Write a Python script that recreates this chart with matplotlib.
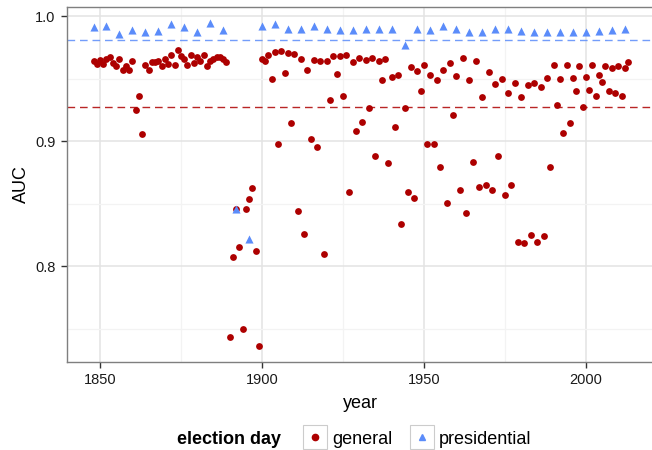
import matplotlib
matplotlib.use("Agg")
import matplotlib.pyplot as plt
from matplotlib.lines import Line2D
from matplotlib.legend_handler import HandlerTuple
from matplotlib.ticker import MultipleLocator
import numpy as np

# AUC for general elections, one value per year 1848-2013
general_years = list(range(1848, 2014))
general_auc = [
    0.964, 0.9616, 0.9648, 0.9616, 0.9653, 0.9675, 0.9627, 0.960, 0.9659, 0.9568,
    0.960, 0.9568, 0.964, 0.9248, 0.936, 0.9056, 0.9608, 0.9568, 0.9632, 0.9632,
    0.9637, 0.960, 0.9656, 0.9616, 0.9688, 0.9608, 0.9728, 0.968, 0.9656, 0.9608,
    0.9688, 0.9627, 0.967, 0.964, 0.9688, 0.960, 0.964, 0.9659, 0.967, 0.967,
    0.9656, 0.9634, 0.7434, 0.8072, 0.8453, 0.8152, 0.7498, 0.8456, 0.8536, 0.8627,
    0.8122, 0.7362, 0.9656, 0.964, 0.9688, 0.9496, 0.9714, 0.8976, 0.972, 0.9544,
    0.9704, 0.9144, 0.9696, 0.844, 0.9656, 0.8256, 0.9568, 0.9016, 0.9648, 0.8952,
    0.964, 0.8096, 0.964, 0.9328, 0.968, 0.9536, 0.968, 0.936, 0.9688, 0.8592,
    0.9632, 0.908, 0.9664, 0.9155, 0.9648, 0.9264, 0.9664, 0.888, 0.964, 0.9488,
    0.9656, 0.8824, 0.9512, 0.9112, 0.9528, 0.8336, 0.9264, 0.8592, 0.9592, 0.8544,
    0.956, 0.940, 0.9608, 0.8976, 0.9528, 0.8976, 0.9488, 0.8792, 0.9568, 0.8504,
    0.9624, 0.9208, 0.952, 0.8608, 0.9664, 0.8424, 0.9488, 0.8832, 0.964, 0.8632,
    0.9352, 0.8648, 0.9552, 0.8608, 0.9456, 0.888, 0.9496, 0.8568, 0.9384, 0.8648,
    0.9464, 0.8192, 0.9352, 0.8184, 0.9448, 0.8248, 0.9464, 0.8192, 0.9432, 0.824,
    0.9504, 0.8792, 0.9608, 0.9288, 0.9496, 0.9064, 0.9608, 0.9144, 0.9504, 0.940,
    0.960, 0.9272, 0.9512, 0.9408, 0.9608, 0.936, 0.9528, 0.9472, 0.960, 0.940,
    0.9584, 0.9384, 0.960, 0.936, 0.9584, 0.9632,
]

# AUC for presidential elections, every 4 years 1848-2012
pres_years = list(range(1848, 2013, 4))
pres_auc = [
    0.9914, 0.992, 0.986, 0.9888, 0.987, 0.988, 0.9936, 0.991, 0.9874, 0.9946,
    0.989, 0.8453, 0.8213, 0.9922, 0.9933, 0.9899, 0.9899, 0.9922, 0.990, 0.9888,
    0.9888, 0.990, 0.9894, 0.9894, 0.9766, 0.9894, 0.9885, 0.9922, 0.9894, 0.9874,
    0.9874, 0.9896, 0.9894, 0.988, 0.9874, 0.9874, 0.987, 0.987, 0.9874, 0.988,
    0.9888, 0.9894,
]

# reference (mean) lines
general_ref = 0.9275
pres_ref = 0.981

RED = "#AD0000"
BLUE = "#5B8CFA"

plt.rcParams["font.family"] = ["Liberation Sans", "DejaVu Sans"]

W, H = 652, 450
fig = plt.figure(figsize=(W / 100, H / 100), dpi=100)

# x / y limits with ggplot-style 5% expansion
xs = general_years + pres_years
ys = general_auc + pres_auc
xpad = (max(xs) - min(xs)) * 0.05
ypad = (max(ys) - min(ys)) * 0.05
xlim = (min(xs) - xpad, max(xs) + xpad)
ylim = (min(ys) - ypad, max(ys) + ypad)

# panel placed so it runs a little past the right edge, as in the source
left_px, right_px, top_px, bot_px = 66.8, 654.8, 6.6, 362
ax = fig.add_axes([left_px / W, 1 - bot_px / H,
                   (right_px - left_px) / W, (bot_px - top_px) / H])

ax.set_xlim(*xlim)
ax.set_ylim(*ylim)

ax.xaxis.set_major_locator(MultipleLocator(50))
ax.xaxis.set_minor_locator(MultipleLocator(25))
ax.yaxis.set_major_locator(MultipleLocator(0.1))
ax.yaxis.set_minor_locator(MultipleLocator(0.05))
ax.yaxis.set_major_formatter(matplotlib.ticker.FormatStrFormatter("%.1f"))

ax.grid(which="major", color="#E3E3E3", lw=1.1, zorder=0)
ax.grid(which="minor", color="#F3F3F3", lw=0.9, zorder=0)
ax.set_axisbelow(True)

for s in ax.spines.values():
    s.set_color("#7F7F7F")
    s.set_linewidth(1.0)

ax.tick_params(which="major", direction="out", length=4, width=1.0,
               color="#333333", labelsize=10.5, labelcolor="#1A1A1A", pad=4)
ax.tick_params(which="minor", length=0)

ax.axhline(general_ref, color=RED, lw=1.0, ls=(0, (5.5, 3.5)), alpha=0.85, zorder=2)
ax.axhline(pres_ref, color=BLUE, lw=1.0, ls=(0, (5.5, 3.5)), alpha=0.85, zorder=2)

ax.scatter(general_years, general_auc, s=24, color=RED, marker="o",
           linewidths=0, zorder=3)
ax.scatter(pres_years, pres_auc, s=34, color=BLUE, marker="^",
           linewidths=0, zorder=4)

ax.set_xlabel("year", fontsize=13, labelpad=6)
ax.set_ylabel("AUC", fontsize=13, labelpad=4)

# legend along the bottom, title on the left
fig.text(177 / W, 1 - 439 / H, "election day", fontsize=13, fontweight="bold",
         ha="left", va="center")

box = dict(marker="s", markersize=17.5, markerfacecolor="white",
           markeredgecolor="#CCCCCC", markeredgewidth=0.8, linestyle="none")
h_gen = (Line2D([], [], **box),
         Line2D([], [], marker="o", color=RED, markersize=4.5, linestyle="none"))
h_pres = (Line2D([], [], **box),
          Line2D([], [], marker="^", color=BLUE, markersize=5, linestyle="none"))

fig.legend([h_gen, h_pres], ["general", "presidential"],
           handler_map={tuple: HandlerTuple(ndivide=1, pad=0)},
           loc="center left", bbox_to_anchor=(303 / W, 1 - 439 / H),
           ncol=2, frameon=False, fontsize=13, borderpad=0, borderaxespad=0,
           handlelength=1.35, handletextpad=0.25, columnspacing=1.0)

fig.savefig("out.png", dpi=100)
plt.close(fig)
